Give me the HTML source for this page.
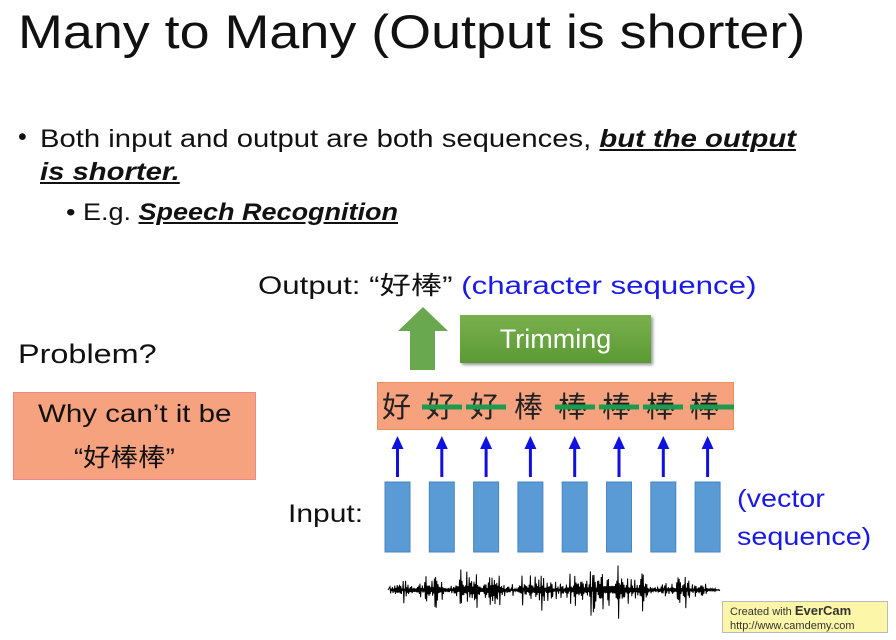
<!DOCTYPE html>
<html><head><meta charset="utf-8"><style>
body{margin:0;width:896px;height:640px;background:#fff;position:relative;overflow:hidden;font-family:"Liberation Sans","Noto Sans CJK SC",sans-serif;color:#111}
.a{position:absolute;white-space:nowrap;transform-origin:0 0}
b i{text-decoration:underline}
</style></head><body>
<div class="a" style="left:18px;top:4px;font-size:47px;transform:scaleX(1.146)">Many to Many (Output is shorter)</div>
<div class="a" style="left:18px;top:123px;font-size:25px">•</div>
<div class="a" style="left:40px;top:123px;font-size:25px;line-height:33px;transform:scaleX(1.17)">Both input and output are both sequences, <b><i>but the output</i></b><br><b><i>is shorter.</i></b></div>
<div class="a" style="left:66px;top:199px;font-size:24px;transform:scaleX(1.125)">• E.g. <b><i>Speech Recognition</i></b></div>
<div class="a" style="left:258px;top:266px;font-size:25px;transform:scaleX(1.25)">Output: “好棒” <span style="color:#1a1ae6">(character sequence)</span></div>
<div class="a" style="left:18px;top:339px;font-size:27px;transform:scaleX(1.2)">Problem?</div>
<div class="a" style="left:13px;top:392px;width:243px;height:88px;background:#f7a27f;border:1px solid #e88;box-sizing:border-box"></div>
<div class="a" style="left:38px;top:400px;font-size:25px;transform:scaleX(1.18)">Why can’t it be</div>
<div class="a" style="left:74px;top:438px;font-size:25px;transform:scaleX(1.1)">“好棒棒”</div>
<div class="a" style="left:460px;top:315px;width:191px;height:48px;background:linear-gradient(#7ab04e,#5a9a34);color:#fff;font-size:27px;text-align:center;line-height:48px;box-shadow:2px 2px 3px #999">Trimming</div>
<div class="a" style="left:377px;top:382px;width:357px;height:48px;background:#f7a27f;border:1px solid #e99060;box-sizing:border-box"></div>
<div class="a" style="left:288px;top:500px;font-size:25px;transform:scaleX(1.2)">Input:</div>
<div class="a" style="left:737px;top:480px;font-size:25px;color:#1a1ae6;line-height:38px;transform:scaleX(1.15)">(vector<br>sequence)</div>
<svg class="a" style="left:0;top:0" width="896" height="640">
<polygon points="410,370 435,370 435,331 448,331 423,307 398,331 410,331" fill="#6aa84f"/>
<g font-size="29" font-family="Noto Sans CJK SC,sans-serif" fill="#222">
<text x="382" y="417">好</text><text x="426" y="417">好</text><text x="470" y="417">好</text><text x="514" y="417">棒</text><text x="558" y="417">棒</text><text x="602" y="417">棒</text><text x="646" y="417">棒</text><text x="690" y="417">棒</text>
</g>
<g stroke="#1e9a50" stroke-width="5">
<line x1="422" y1="407" x2="462" y2="407"/><line x1="466" y1="407" x2="506" y2="407"/>
<line x1="555" y1="407" x2="595" y2="407"/><line x1="599" y1="407" x2="639" y2="407"/><line x1="643" y1="407" x2="683" y2="407"/><line x1="690" y1="407" x2="734" y2="407"/>
</g>
<g id="cols"></g>
<path id="wave" stroke="#000" stroke-width="1" fill="none"/>
</svg>
<div class="a" style="left:722px;top:601px;width:166px;height:32px;background:#fbf6a8;border:1px solid #bbb;font-size:11px;line-height:14px;padding:2px 7px;box-sizing:border-box;color:#333">Created with <b style="font-size:13px">EverCam</b><br>http://www.camdemy.com</div>
<script>
var g=document.getElementById('cols'),s='';
for(var i=0;i<8;i++){var x=385+i*44.3,c=x+12.5;
s+='<rect x="'+x+'" y="482" width="25" height="70" fill="#5b9bd5" stroke="#4a86c0"/>';
s+='<line x1="'+c+'" y1="477" x2="'+c+'" y2="446" stroke="#1010e0" stroke-width="3"/>';
s+='<polygon points="'+(c-6)+',449 '+(c+6)+',449 '+c+',436" fill="#1010e0"/>';}
g.innerHTML=s;
var d='M388 590',seed=7;function r(){seed=(seed*9301+49297)%233280;return seed/233280;}
var env=[[395,8],[420,12],[445,4],[455,22],[480,12],[500,5],[520,14],[550,7],[570,16],[600,24],[620,14],[645,6],[665,11],[690,5],[715,3]];
function A(x){for(var k=0;k<env.length-1;k++){if(x<env[k+1][0]){return env[k][1];}}return 2;}
for(var x=390;x<720;x+=1.2){var q=r();var a=A(x)*(0.15+q*q*1.1);d+=' L'+x.toFixed(1)+' '+(590-a).toFixed(1)+' L'+(x+0.6).toFixed(1)+' '+(590+a*(0.5+r())).toFixed(1);}
d+=' L720 590';document.getElementById('wave').setAttribute('d',d);
</script>
</body></html>
